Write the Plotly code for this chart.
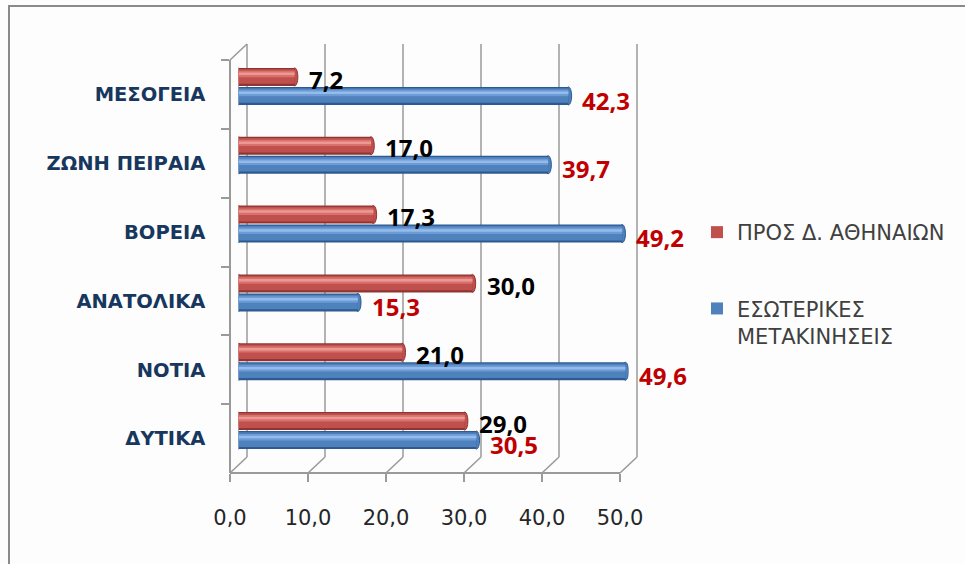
import plotly.graph_objects as go

# ---- data -------------------------------------------------------------
categories = ["ΔΥΤΙΚΑ", "ΝΟΤΙΑ", "ΑΝΑΤΟΛΙΚΑ", "ΒΟΡΕΙΑ", "ΖΩΝΗ ΠΕΙΡΑΙΑ", "ΜΕΣΟΓΕΙΑ"]
to_athens = [29.0, 21.0, 30.0, 17.3, 17.0, 7.2]      # ΠΡΟΣ Δ. ΑΘΗΝΑΙΩΝ
internal = [30.5, 49.6, 15.3, 49.2, 39.7, 42.3]      # ΕΣΩΤΕΡΙΚΕΣ ΜΕΤΑΚΙΝΗΣΕΙΣ
series_names = ["ΠΡΟΣ Δ. ΑΘΗΝΑΙΩΝ", "ΕΣΩΤΕΡΙΚΕΣ<br>ΜΕΤΑΚΙΝΗΣΕΙΣ"]
x_ticks = [0, 10, 20, 30, 40, 50]
x_range = [0, 50]

# ---- page geometry (pixels) -----------------------------------------
W, H = 965, 564


def px(x):
    return x / W


def py(y):
    return (H - y) / H


UNIT = 7.8                       # pixels per value unit
FRONT_X0, MID_X0, BACK_X0 = 230, 238.5, 247
FRONT_TOP, FRONT_BOT = 60, 473
DX, DY = 17, 16                  # depth offset of the back wall
MID_TOP, MID_BOT = FRONT_TOP - DY / 2, FRONT_BOT - DY / 2
BACK_TOP, BACK_BOT = 44, FRONT_BOT - DY
N = len(categories)
CAT_PX = (FRONT_BOT - FRONT_TOP) / N
BAR = 18 / CAT_PX                # bar thickness in category units
SHIFT = 9.5 / CAT_PX             # distance of each bar centre from the category centre

GRID = "#9a9a9a"
styles = [
    dict(dark="#8f3431", main="#c0504d", light="#d9716d", hi="#eb9995", label="#000000", centre=SHIFT),
    dict(dark="#2c5a91", main="#4f81bd", light="#6d9bd6", hi="#95bbea", label="#c00000", centre=-SHIFT),
]
values = [to_athens, internal]

fig = go.Figure()

# cylinder-like bars: stacked bands of colour across the bar thickness
bands = [(0.0, 1.0, "dark"), (0.12, 0.93, "main"), (0.48, 0.84, "light"), (0.6, 0.74, "hi")]
for s, (vals, st, name) in enumerate(zip(values, styles, series_names)):
    for f0, f1, key in bands:
        fig.add_trace(go.Bar(
            x=vals, y=categories, orientation="h",
            offset=st["centre"] - BAR / 2 + f0 * BAR, width=(f1 - f0) * BAR,
            marker=dict(color=st[key], line=dict(width=0)),
            name=name, legendgroup=f"g{s}", showlegend=(key == "main"),
            hoverinfo="skip" if key != "main" else None,
            xaxis="x", yaxis="y",
        ))

# rounded ends of the cylinders
shapes = []
r = 3.2 / UNIT
for vals, st in zip(values, styles):
    for i, v in enumerate(vals):
        y0 = i + st["centre"] - BAR / 2
        y1 = i + st["centre"] + BAR / 2
        for xc in (0, v):
            shapes.append(dict(type="circle", xref="x", yref="y", x0=xc - r, x1=xc + r,
                               y0=y0, y1=y1, fillcolor=st["main"],
                               line=dict(color=st["dark"], width=1), layer="between"))

# invisible trace that carries the front-plane category axis
fig.add_trace(go.Scatter(x=[0] * N, y=categories, mode="none", showlegend=False,
                         hoverinfo="skip", xaxis="x2", yaxis="y2"))

# pseudo-3D box: back wall grid, floor diagonals, side wall edges
for t in x_ticks:
    fx = FRONT_X0 + t * UNIT
    bx = BACK_X0 + t * UNIT
    shapes.append(dict(type="line", xref="paper", yref="paper", x0=px(bx), x1=px(bx),
                       y0=py(BACK_TOP), y1=py(BACK_BOT), line=dict(color=GRID, width=1.5), layer="below"))
    shapes.append(dict(type="line", xref="paper", yref="paper", x0=px(fx), x1=px(bx),
                       y0=py(FRONT_BOT), y1=py(BACK_BOT), line=dict(color=GRID, width=1.5), layer="below"))
shapes.append(dict(type="line", xref="paper", yref="paper", x0=px(FRONT_X0), x1=px(BACK_X0),
                   y0=py(FRONT_TOP), y1=py(BACK_TOP), line=dict(color=GRID, width=1.5), layer="below"))

# outer frame of the chart area
shapes.append(dict(type="rect", xref="paper", yref="paper", x0=px(9), x1=px(1000),
                   y0=py(6), y1=py(620), line=dict(color="#8a8a8a", width=2), fillcolor="rgba(0,0,0,0)",
                   layer="below"))

# value labels
annotations = []
lab_off = [0.18, -0.125]
for s, (vals, st) in enumerate(zip(values, styles)):
    for i, v in enumerate(vals):
        annotations.append(dict(
            x=v, y=i + lab_off[s], xref="x", yref="y2", xanchor="left", yanchor="middle",
            xshift=12, yshift=3, showarrow=False, text=f"{v:.1f}".replace(".", ","),
            font=dict(family="Open Sans", size=24, color=st["label"], weight="bold"),
        ))

cat_range = [-0.5, N - 0.5]
fig.update_layout(
    width=W, height=H,
    margin=dict(l=0, r=0, t=0, b=0, autoexpand=False),
    paper_bgcolor="#fdfdfd", plot_bgcolor="rgba(0,0,0,0)",
    separators=",.",
    barmode="overlay",
    showlegend=True,
    shapes=shapes,
    annotations=annotations,
    xaxis=dict(domain=[px(MID_X0), px(MID_X0 + 50 * UNIT)], range=x_range, visible=False, anchor="y"),
    yaxis=dict(domain=[py(MID_BOT), py(MID_TOP)], range=cat_range, type="category",
               categoryorder="array", categoryarray=categories, visible=False, anchor="x"),
    xaxis2=dict(domain=[px(FRONT_X0), px(FRONT_X0 + 50 * UNIT)], range=x_range, anchor="free",
                position=py(FRONT_BOT), showgrid=False, zeroline=False, automargin=False,
                showline=True, linecolor=GRID, linewidth=1.5,
                ticks="outside", ticklen=8, tickcolor=GRID, tickwidth=1.5,
                tickvals=x_ticks, tickformat=".1f", ticklabelstandoff=18,
                tickfont=dict(family="DejaVu Sans", size=21, color="#262626")),
    yaxis2=dict(domain=[py(FRONT_BOT), py(FRONT_TOP)], range=cat_range, type="category",
                categoryorder="array", categoryarray=categories, anchor="free",
                position=px(FRONT_X0), showgrid=False, zeroline=False, automargin=False,
                showline=True, linecolor=GRID, linewidth=1.5,
                ticks="outside", ticklen=8, tickcolor=GRID, tickwidth=1.5, tickson="boundaries",
                ticklabelstandoff=20,
                tickfont=dict(family="DejaVu Sans", size=19.5, color="#17375e", weight="bold")),
    legend=dict(x=px(697), y=py(212), xanchor="left", yanchor="top",
                font=dict(family="DejaVu Sans", size=21, color="#404040"),
                tracegroupgap=46, traceorder="grouped", valign="top",
                bgcolor="rgba(0,0,0,0)"),
)

fig.write_html("out.html")
